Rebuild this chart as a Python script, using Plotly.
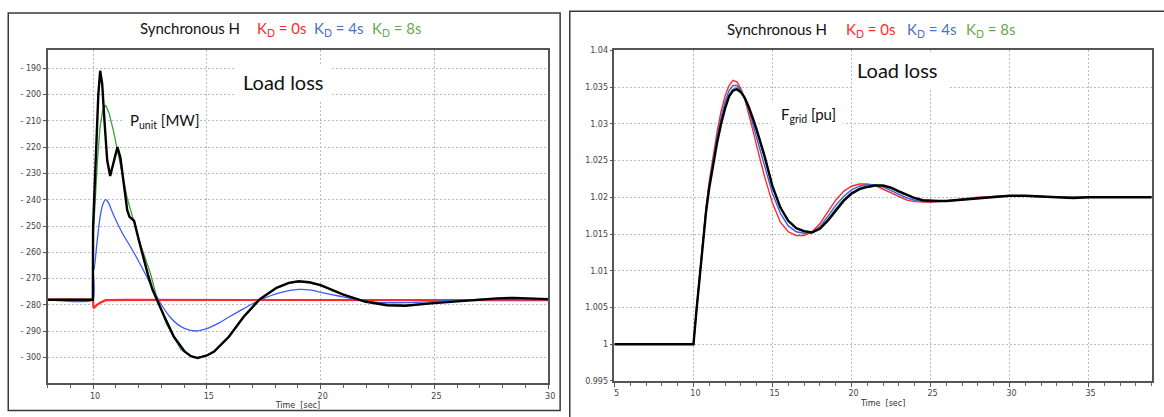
import plotly.graph_objects as go

W, H = 1164, 417

# ---------------- Left panel: unit active power P_unit [MW] ----------------
t_p_black = [8, 9.99, 10.0, 10.06, 10.15, 10.23, 10.31, 10.4, 10.5, 10.62, 10.75, 10.9,
             11.07, 11.2, 11.35, 11.5, 11.6, 11.8, 12.0, 12.2, 12.41, 12.6, 12.81, 13.14,
             13.55, 14.02, 14.3, 14.59, 15.0, 15.32, 15.97, 16.61, 17.33, 18.06, 18.6,
             19.03, 19.5, 20.0, 20.97, 21.94, 22.91, 23.72, 24.85, 25.8, 26.94, 27.75,
             28.5, 29.2, 30.0]
p_black = [-278, -278, -250, -238, -218, -200, -191, -196, -210, -225, -231, -226,
           -220, -224, -235, -244, -246.5, -248, -255, -262, -268.5, -274, -278.4, -284.6,
           -292.1, -297.7, -299.5, -300.2, -299.2, -297.7, -292.1, -284.6, -277.8, -273.5, -271.6,
           -271.0, -271.4, -272.5, -276.0, -278.7, -280.1, -280.3, -279.4, -278.8, -277.8, -277.5,
           -277.3, -277.5, -277.8]

t_p_green = [8, 9.99, 10.0, 10.1, 10.2, 10.3, 10.42, 10.55, 10.7, 10.9, 11.1, 11.3, 11.5,
             11.8, 12.1, 12.5, 12.81, 13.22, 13.86, 14.3, 14.6, 15.0, 15.32, 15.97, 16.61,
             17.33, 18.06, 18.6, 19.03, 19.5, 20.0, 21.0, 22.0, 23.0, 23.7, 24.85, 25.8,
             27.0, 28.0, 30.0]
p_green = [-278, -278, -255, -238, -224, -213, -206, -204, -207, -214, -222, -231, -239.5,
           -249, -257.5, -267.5, -277.5, -287.1, -297.0, -299.5, -299.9, -299.2, -297.5, -291.8, -284.4,
           -277.7, -273.6, -271.8, -271.2, -271.6, -272.7, -276.1, -278.7, -279.9, -280.1, -279.3, -278.7,
           -277.8, -277.6, -277.8]

t_p_blue = [8, 9.99, 10.0, 10.04, 10.15, 10.3, 10.42, 10.55, 10.68, 10.8, 10.95, 11.12,
            11.35, 11.61, 11.85, 12.09, 12.33, 12.57, 12.9, 13.38, 13.7, 14.03, 14.51, 15.0,
            15.5, 15.97, 16.6, 17.26, 18.23, 19.03, 19.6, 20.06, 20.79, 21.66, 22.54, 23.7,
            24.72, 25.88, 27.3, 30.0]
p_blue = [-278, -278, -266, -266.5, -258, -247, -242, -240, -241.2, -243.7, -246.8, -249.9,
          -253.7, -257.4, -261.0, -264.8, -268.8, -272.9, -278.4, -284.6, -287.3, -289.0, -289.9, -289.0,
          -287.0, -284.6, -281.5, -278.4, -275.3, -274.1, -274.4, -275.3, -276.6, -278.1, -279.1, -279.1,
          -278.8, -278.2, -278.0, -278.0]

t_p_red = [8, 10.0, 10.02, 10.1, 10.2, 10.35, 10.55, 11.5, 15.0, 20.0, 25.0, 30.0]
p_red = [-278, -278, -281.2, -280.5, -279.8, -279.0, -278.2, -278.1, -278.1, -278.1, -278.2, -278.2]

p_ticks = [-190, -200, -210, -220, -230, -240, -250, -260, -270, -280, -290, -300]
p_ticktext = ["- 190", "- 200", "- 210", "- 220", "- 230", "- 240", "- 250", "- 260",
              "- 270", "- 280", "- 290", "- 300"]
t_ticks_left = [10, 15, 20, 25, 30]

# ---------------- Right panel: grid frequency F_grid [pu] ----------------
t_f = [5, 10, 10.2, 10.4, 10.6, 10.8, 11.0, 11.25, 11.5, 11.75, 12.0, 12.25, 12.5, 12.75,
       13.0, 13.25, 13.5, 13.75, 14.0, 14.5, 15.0, 15.5, 16.0, 16.5, 17.0, 17.5, 18.0,
       18.5, 19.0, 19.5, 20.0, 20.5, 21.0, 21.5, 22.0, 22.5, 23.0, 23.5, 24.0, 24.5, 25.0,
       25.5, 26.0, 26.5, 27.0, 28.0, 29.0, 30.0, 31.0, 32.0, 33.0, 34.0, 35.0, 37.0, 39.0]
f_red = [1.0, 1.0, 1.0050, 1.0099, 1.0146, 1.0187, 1.0222, 1.0259, 1.0290, 1.0317, 1.0338,
         1.0352, 1.0359, 1.0357, 1.0348, 1.0333, 1.0314, 1.0292, 1.0270, 1.0228, 1.0192,
         1.0166, 1.0153, 1.0148, 1.0148, 1.0153, 1.0164, 1.0180, 1.0196, 1.0208, 1.0215,
         1.0218, 1.0218, 1.0216, 1.0211, 1.0205, 1.0200, 1.0196, 1.0194, 1.0193, 1.0193,
         1.0194, 1.0195, 1.0197, 1.0198, 1.0200, 1.0201, 1.0202, 1.0202, 1.0201, 1.0200,
         1.0200, 1.0200, 1.0200, 1.0200]
f_blue = [1.0, 1.0, 1.0049, 1.0097, 1.0144, 1.0184, 1.0217, 1.0253, 1.0283, 1.0309, 1.0330,
          1.0345, 1.0352, 1.0352, 1.0346, 1.0334, 1.0319, 1.0300, 1.0281, 1.0243, 1.0205,
          1.0178, 1.0161, 1.0153, 1.0151, 1.0152, 1.0160, 1.0174, 1.0189, 1.0201, 1.0210,
          1.0215, 1.0217, 1.0217, 1.0214, 1.0209, 1.0204, 1.0199, 1.0196, 1.0194, 1.0194,
          1.0194, 1.0195, 1.0196, 1.0197, 1.0199, 1.0201, 1.0202, 1.0202, 1.0201, 1.0200,
          1.0200, 1.0200, 1.0200, 1.0200]
f_green = [1.0, 1.0, 1.0048, 1.0096, 1.0142, 1.0182, 1.0214, 1.0249, 1.0278, 1.0303, 1.0324,
           1.0339, 1.0347, 1.0349, 1.0345, 1.0336, 1.0323, 1.0307, 1.0290, 1.0254, 1.0214,
           1.0186, 1.0168, 1.0158, 1.0153, 1.0152, 1.0158, 1.0170, 1.0184, 1.0197, 1.0206,
           1.0212, 1.0215, 1.0216, 1.0215, 1.0212, 1.0207, 1.0202, 1.0198, 1.0196, 1.0195,
           1.0195, 1.0195, 1.0196, 1.0197, 1.0199, 1.0201, 1.0202, 1.0202, 1.0201, 1.0200,
           1.0199, 1.0200, 1.0200, 1.0200]
f_black = [1.0, 1.0, 1.0048, 1.0096, 1.0142, 1.0181, 1.0213, 1.0247, 1.0275, 1.0300, 1.0321,
           1.0337, 1.0345, 1.0347, 1.0343, 1.0335, 1.0323, 1.0308, 1.0292, 1.0256, 1.0215,
           1.0186, 1.0168, 1.0158, 1.0154, 1.0152, 1.0157, 1.0168, 1.0182, 1.0195, 1.0205,
           1.0211, 1.0214, 1.0216, 1.0216, 1.0213, 1.0208, 1.0203, 1.0199, 1.0196, 1.0195,
           1.0195, 1.0195, 1.0196, 1.0197, 1.0199, 1.0201, 1.0202, 1.0202, 1.0201, 1.0200,
           1.0199, 1.0200, 1.0200, 1.0200]

f_ticks = [0.995, 1.0, 1.005, 1.01, 1.015, 1.02, 1.025, 1.03, 1.035, 1.04]
f_ticktext = ["0.995", "1", "1.005", "1.01", "1.015", "1.02", "1.025", "1.03", "1.035", "1.04"]
t_ticks_right = [5, 10, 15, 20, 25, 30, 35]

RED = "#ff2a2a"
BLUE = "#3c5cf0"
GREEN = "#3f9a3a"
BLACK = "#000000"
TITLE_BLUE = "#4a72c4"
TITLE_GREEN = "#6aa84f"


def px(x):
    return x / W


def py(y):
    return 1 - y / H


fig = go.Figure()

# left panel traces
fig.add_trace(go.Scatter(x=t_p_red, y=p_red, mode="lines", line=dict(color=RED, width=2.2),
                         xaxis="x", yaxis="y", name="K_D = 0s"))
fig.add_trace(go.Scatter(x=t_p_blue, y=p_blue, mode="lines",
                         line=dict(color=BLUE, width=1.3, shape="spline", smoothing=0.6),
                         xaxis="x", yaxis="y", name="K_D = 4s"))
fig.add_trace(go.Scatter(x=t_p_green, y=p_green, mode="lines", line=dict(color=GREEN, width=1.3),
                         xaxis="x", yaxis="y", name="K_D = 8s"))
fig.add_trace(go.Scatter(x=t_p_black, y=p_black, mode="lines", line=dict(color=BLACK, width=2.4),
                         xaxis="x", yaxis="y", name="P_unit"))

# right panel traces
fig.add_trace(go.Scatter(x=t_f, y=f_red, mode="lines", line=dict(color=RED, width=1.4),
                         xaxis="x2", yaxis="y2", name="K_D = 0s"))
fig.add_trace(go.Scatter(x=t_f, y=f_blue, mode="lines", line=dict(color=BLUE, width=1.4),
                         xaxis="x2", yaxis="y2", name="K_D = 4s"))
fig.add_trace(go.Scatter(x=t_f, y=f_green, mode="lines", line=dict(color=GREEN, width=1.4),
                         xaxis="x2", yaxis="y2", name="K_D = 8s"))
fig.add_trace(go.Scatter(x=t_f, y=f_black, mode="lines", line=dict(color=BLACK, width=2.4),
                         xaxis="x2", yaxis="y2", name="F_grid"))

tick_font = dict(family="DejaVu Sans", size=8, color="#444444")
grid = dict(showgrid=True, gridcolor="#bdbdbd", gridwidth=1, griddash="2px,2px",
            showline=True, linecolor="#555555", linewidth=1.6, mirror=True,
            zeroline=False, tickfont=tick_font, ticks="outside", tickcolor="#555555")

xcommon = dict(grid, ticklen=4, tickwidth=1, ticklabelshift=2,
               minor=dict(dtick=1, ticks="outside", ticklen=3, tickcolor="#666666", showgrid=False),
               title=dict(text="Time  [sec]", font=dict(family="DejaVu Sans", size=8, color="#333333"),
                          standoff=3))
ycommon = dict(grid, ticklen=3, tickwidth=1)

fig.update_layout(
    width=W, height=H,
    margin=dict(l=0, r=0, t=0, b=0),
    paper_bgcolor="white", plot_bgcolor="white",
    showlegend=False,
    xaxis=dict(xcommon, domain=[px(46.9), px(551)], range=[8, 30], tickvals=t_ticks_left,
               anchor="y"),
    yaxis=dict(ycommon, domain=[py(387.7), py(47.3)], range=[-309.8, -183.2],
               tickvals=p_ticks, ticktext=p_ticktext, anchor="x"),
    xaxis2=dict(xcommon, domain=[px(617.7), px(1158.7)], range=[5, 39], tickvals=t_ticks_right,
                anchor="y2"),
    yaxis2=dict(ycommon, domain=[py(385.3), py(47.3)], range=[0.995, 1.04],
                tickvals=f_ticks, ticktext=f_ticktext, anchor="x2"),
)

shapes = [
    # panel frames
    dict(type="rect", xref="paper", yref="paper", x0=px(7.3), x1=px(563), y0=py(415.5), y1=py(9.3),
         line=dict(color="#3a3a3a", width=1.5), layer="below"),
    dict(type="rect", xref="paper", yref="paper", x0=px(572.7), x1=px(1175), y0=py(430), y1=py(7.3),
         line=dict(color="#3a3a3a", width=1.5), layer="below"),
    # white boxes behind the in-plot labels
    dict(type="rect", xref="paper", yref="paper", x0=px(235), x1=px(333), y0=py(100), y1=py(62),
         fillcolor="white", line=dict(width=0), layer="above"),
    dict(type="rect", xref="paper", yref="paper", x0=px(122), x1=px(200), y0=py(131), y1=py(106),
         fillcolor="white", line=dict(width=0), layer="above"),
    dict(type="rect", xref="paper", yref="paper", x0=px(857), x1=px(954), y0=py(88), y1=py(48.5),
         fillcolor="white", line=dict(width=0), layer="above"),
    dict(type="rect", xref="paper", yref="paper", x0=px(775), x1=px(848), y0=py(126), y1=py(98),
         fillcolor="white", line=dict(width=0), layer="above"),
]
fig.update_layout(shapes=shapes)

TFONT = "Lato, Carlito, Calibri, sans-serif"


def label(x, y, text, color="#111111", size=15, xanchor="left", yanchor="top"):
    fig.add_annotation(x=px(x), y=py(y), xref="paper", yref="paper", text=text, showarrow=False,
                       xanchor=xanchor, yanchor=yanchor, align="left",
                       font=dict(family=TFONT, size=size, color=color))


# panel headings
for x0, xk0, xk4, xk8, ytop in [(138, 256, 313, 372, 13.5), (729, 849, 910, 970, 14.8)]:
    label(x0, ytop, "Synchronous H")
    label(xk0, ytop, "K<sub>D</sub> = 0s", color=RED)
    label(xk4, ytop, "K<sub>D</sub> = 4s", color=TITLE_BLUE)
    label(xk8, ytop, "K<sub>D</sub> = 8s", color=TITLE_GREEN)

# in-plot labels
label(284, 80, "Load loss", size=20, xanchor="center", yanchor="middle")
label(903, 67, "Load loss", size=20, xanchor="center", yanchor="middle")
label(127.7, 107.5, "P<sub>unit</sub> [MW]", size=15)
label(783.3, 101, "F<sub>grid</sub> [pu]", size=15)

fig.write_html("out.html")
